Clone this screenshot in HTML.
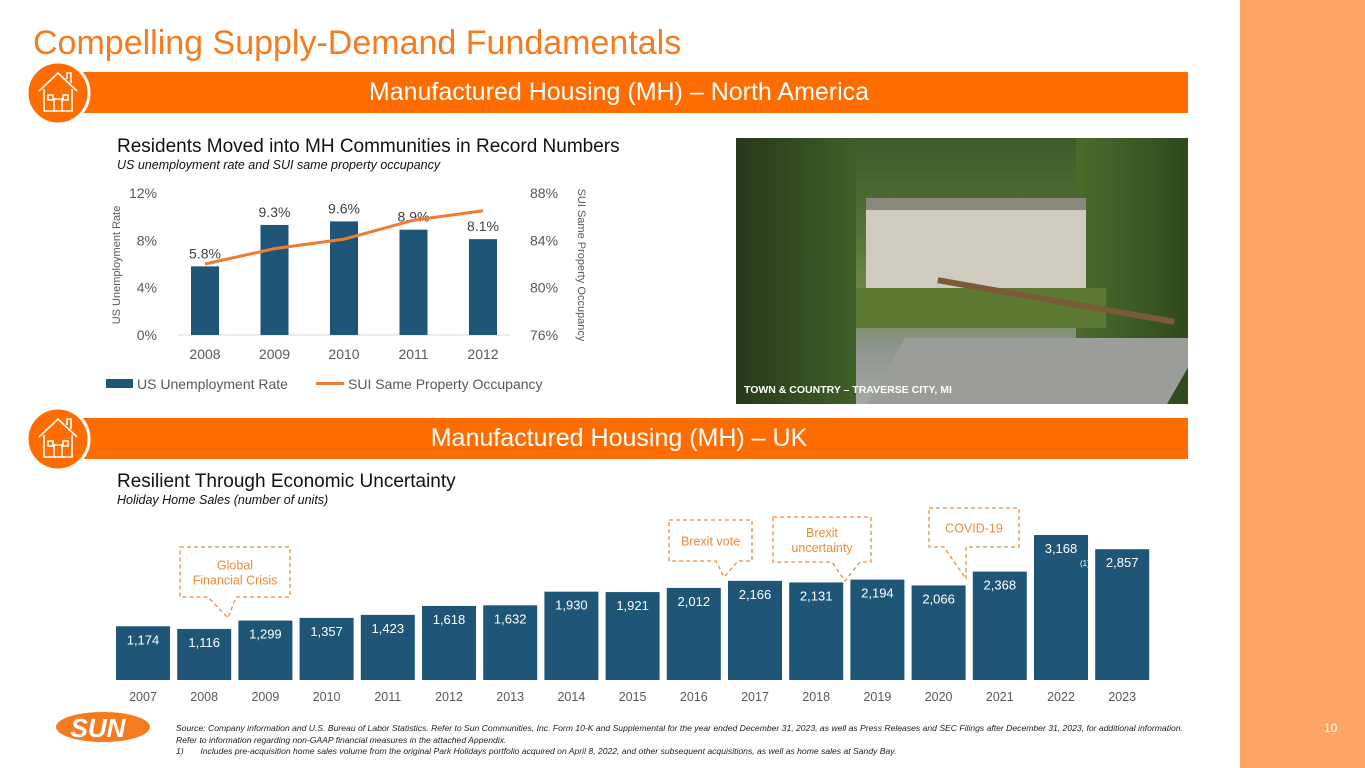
<!DOCTYPE html>
<html><head><meta charset="utf-8"><style>
body{margin:0;width:1365px;height:768px;overflow:hidden;background:#fff;font-family:"Liberation Sans",sans-serif;position:relative}
.abs{position:absolute}
</style></head><body>
<div class="abs" style="left:1240px;top:0;width:125px;height:768px;background:#FCA567"></div>
<div class="abs" style="left:33px;top:24px;font-size:34px;color:#F47B20">Compelling Supply-Demand Fundamentals</div>

<div class="abs" style="left:80px;top:72px;width:1108px;height:41px;background:#FF6D00;color:#fff;font-size:25px;line-height:41px;text-align:center;padding-right:30px;box-sizing:border-box">Manufactured Housing (MH) – North America</div>
<div class="abs" style="left:80px;top:418px;width:1108px;height:41px;background:#FF6D00;color:#fff;font-size:25px;line-height:41px;text-align:center;padding-right:30px;box-sizing:border-box">Manufactured Housing (MH) – UK</div>

<svg class="abs" style="left:0;top:0" width="1365" height="768">
 <g transform="translate(58,93)">
  <circle r="31" fill="#FF6D00" stroke="#fff" stroke-width="3"/>
  <path d="M-19,-2 L0,-20 L19,-2 M-14,-4 V18 H14 V-4 M-4,18 V6 H4 V18 M-10,2 h5 v5 h-5z M5,2 h5 v5 h-5z M9,-14 v-6 h4 v10" fill="none" stroke="#fff" stroke-width="1.6"/>
 </g>
 <g transform="translate(58,439)">
  <circle r="31" fill="#FF6D00" stroke="#fff" stroke-width="3"/>
  <path d="M-19,-2 L0,-20 L19,-2 M-14,-4 V18 H14 V-4 M-4,18 V6 H4 V18 M-10,2 h5 v5 h-5z M5,2 h5 v5 h-5z M9,-14 v-6 h4 v10" fill="none" stroke="#fff" stroke-width="1.6"/>
 </g>
</svg>

<div class="abs" style="left:117px;top:136px;font-size:19px;color:#111">Residents Moved into MH Communities in Record Numbers</div>
<div class="abs" style="left:117px;top:158px;font-size:12.5px;font-style:italic;color:#111">US unemployment rate and SUI same property occupancy</div>

<svg class="abs" id="topchart" style="left:0;top:0" width="700" height="410"></svg>

<div class="abs" style="left:736px;top:138px;width:452px;height:266px;overflow:hidden;background:linear-gradient(180deg,#3f5a2a 0%,#557238 35%,#6f8a4a 60%,#8f9590 80%,#a5a8a4 100%)">
 <div style="position:absolute;left:0;top:0;width:120px;height:266px;background:linear-gradient(90deg,#26391a,#3f5f28)"></div>
 <div style="position:absolute;left:340px;top:0;width:112px;height:266px;background:linear-gradient(90deg,#4b6b2c,#2f4a1d)"></div>
 <div style="position:absolute;left:130px;top:70px;width:220px;height:100px;background:#cfcbbf"></div>
 <div style="position:absolute;left:130px;top:60px;width:220px;height:12px;background:#8a877c"></div>
 <div style="position:absolute;left:120px;top:150px;width:250px;height:40px;background:#5d7a33"></div>
 <div style="position:absolute;left:150px;top:200px;width:300px;height:66px;background:#9b9d99;transform:skewX(-30deg)"></div>
 <div style="position:absolute;left:200px;top:160px;width:240px;height:6px;background:#7a5a38;transform:rotate(10deg)"></div>
 <div style="position:absolute;left:8px;top:246px;font-size:10.5px;font-weight:bold;color:#fff">TOWN &amp; COUNTRY – TRAVERSE CITY, MI</div>
</div>

<div class="abs" style="left:117px;top:471px;font-size:19px;color:#111">Resilient Through Economic Uncertainty</div>
<div class="abs" style="left:117px;top:493px;font-size:12.5px;font-style:italic;color:#111">Holiday Home Sales (number of units)</div>

<svg class="abs" id="botchart" style="left:0;top:0" width="1240" height="710"></svg>

<svg class="abs" style="left:50px;top:710px" width="100" height="34">
 <ellipse cx="53" cy="17" rx="47" ry="15" fill="#F47B20"/>
 <text x="48" y="27" text-anchor="middle" font-family="Liberation Sans" font-weight="bold" font-size="26" fill="#fff" font-style="italic">SUN</text>
</svg>
<div class="abs" style="left:176px;top:723px;font-size:8.6px;font-style:italic;color:#222;line-height:11.5px">Source: Company information and U.S. Bureau of Labor Statistics. Refer to Sun Communities, Inc. Form 10-K and Supplemental for the year ended December 31, 2023, as well as Press Releases and SEC Filings after December 31, 2023, for additional information.<br>Refer to information regarding non-GAAP financial measures in the attached Appendix.<br>1)&nbsp;&nbsp;&nbsp;&nbsp;&nbsp;&nbsp;&nbsp;Includes pre-acquisition home sales volume from the original Park Holidays portfolio acquired on April 8, 2022, and other subsequent acquisitions, as well as home sales at Sandy Bay.</div>
<div class="abs" style="left:1324px;top:721px;font-size:12px;color:#fff">10</div>

<script>
const NS='http://www.w3.org/2000/svg';
function mk(p,t,a,txt){const e=document.createElementNS(NS,t);for(const k in a)e.setAttribute(k,a[k]);if(txt!==undefined)e.textContent=txt;p.appendChild(e);return e;}

// Top chart data
const topYears=['2008','2009','2010','2011','2012'];
const unemployment=[5.8,9.3,9.6,8.9,8.1];
const unempLabels=['5.8%','9.3%','9.6%','8.9%','8.1%'];
const occupancy=[82.0,83.3,84.1,85.7,86.5];
const leftTicks=[0,4,8,12];
const rightTicks=[76,80,84,88];

// Bottom chart data
const botYears=['2007','2008','2009','2010','2011','2012','2013','2014','2015','2016','2017','2018','2019','2020','2021','2022','2023'];
const sales=[1174,1116,1299,1357,1423,1618,1632,1930,1921,2012,2166,2131,2194,2066,2368,3168,2857];
const salesLabels=['1,174','1,116','1,299','1,357','1,423','1,618','1,632','1,930','1,921','2,012','2,166','2,131','2,194','2,066','2,368','3,168','2,857'];

const tc=document.getElementById('topchart');
const tx=i=>205+i*69.5;
const ly=v=>335-v/12*142;
const ry=v=>335-(v-76)/12*142;
mk(tc,'line',{x1:178,x2:510,y1:335,y2:335,stroke:'#d9d9d9','stroke-width':1});
leftTicks.forEach(t=>{
 const e=mk(tc,'text',{x:157,y:ly(t)+5,'text-anchor':'end','font-size':14,fill:'#595959','font-family':'Liberation Sans'},t+'%');
 
 
});
rightTicks.forEach(t=>{
 const e=mk(tc,'text',{x:530,y:ry(t)+5,'font-size':14,fill:'#595959','font-family':'Liberation Sans'},t+'%');
 
 
});
topYears.forEach((y,i)=>{
 const b=mk(tc,'rect',{x:tx(i)-14,y:ly(unemployment[i]),width:28,height:335-ly(unemployment[i]),fill:'#1F5678'});
 
 
 const l=mk(tc,'text',{x:tx(i),y:ly(unemployment[i])-8,'text-anchor':'middle','font-size':14,fill:'#404040','font-family':'Liberation Sans'},unempLabels[i]);
 
 
 const xl=mk(tc,'text',{x:tx(i),y:359,'text-anchor':'middle','font-size':14,fill:'#595959','font-family':'Liberation Sans'},y);
 
 
});
const ln=mk(tc,'polyline',{points:occupancy.map((v,i)=>tx(i)+','+ry(v)).join(' '),fill:'none',stroke:'#ED7D31','stroke-width':3});


const t1=mk(tc,'text',{transform:'translate(120,265) rotate(-90)','text-anchor':'middle','font-size':11,fill:'#595959','font-family':'Liberation Sans'},'US Unemployment Rate');


const t2=mk(tc,'text',{transform:'translate(578,265) rotate(90)','text-anchor':'middle','font-size':11,fill:'#595959','font-family':'Liberation Sans'},'SUI Same Property Occupancy');


const lg1=mk(tc,'rect',{x:106,y:379,width:27,height:9,fill:'#1F5678'});


const lg1t=mk(tc,'text',{x:137,y:389,'font-size':14,fill:'#595959','font-family':'Liberation Sans'},'US Unemployment Rate');


const lg2=mk(tc,'line',{x1:316,x2:344,y1:383.5,y2:383.5,stroke:'#ED7D31','stroke-width':3});


const lg2t=mk(tc,'text',{x:348,y:389,'font-size':14,fill:'#595959','font-family':'Liberation Sans'},'SUI Same Property Occupancy');



const bc=document.getElementById('botchart');
const bx=i=>143+i*61.2;
const by=v=>680-v/3168*145;
botYears.forEach((y,i)=>{
 const b=mk(bc,'rect',{x:bx(i)-27,y:by(sales[i]),width:54,height:680-by(sales[i]),fill:'#1F5678'});
 
 
 const l=mk(bc,'text',{x:bx(i),y:by(sales[i])+18,'text-anchor':'middle','font-size':13,fill:'#fff','font-family':'Liberation Sans'},salesLabels[i]);
 
 
 const xl=mk(bc,'text',{x:bx(i),y:701,'text-anchor':'middle','font-size':12.5,fill:'#595959','font-family':'Liberation Sans'},y);
 
 
});
const fn=mk(bc,'text',{x:bx(15)+19,y:by(sales[15])+31,'font-size':8,fill:'#fff','font-family':'Liberation Sans'},'(1)');



const callouts=[
 {name:'global-financial-crisis-callout',x1:180,x2:290,y1:547,y2:597,n1:208,n2:236,tip:[228,618],lines:['Global','Financial Crisis']},
 {name:'brexit-vote-callout',x1:669,x2:752,y1:520,y2:561,n1:716,n2:738,tip:[724,577],lines:['Brexit vote']},
 {name:'brexit-uncertainty-callout',x1:773,x2:871,y1:517,y2:562,n1:832,n2:860,tip:[845,581],lines:['Brexit','uncertainty']},
 {name:'covid-19-callout',x1:929,x2:1019,y1:508,y2:547,n1:944,n2:966,tip:[966,579],lines:['COVID-19']}
];
callouts.forEach(c=>{
 const g=mk(bc,'g',{});
 
 
 mk(g,'path',{d:`M${c.x1},${c.y1} H${c.x2} V${c.y2} H${c.n2} L${c.tip[0]},${c.tip[1]} L${c.n1},${c.y2} H${c.x1} Z`,fill:'#fff',stroke:'#F08A3C','stroke-width':1.3,'stroke-dasharray':'4,3'});
 const cy=(c.y1+c.y2)/2, n=c.lines.length;
 c.lines.forEach((t,j)=>mk(g,'text',{x:(c.x1+c.x2)/2,y:cy+5+(j-(n-1)/2)*15,'text-anchor':'middle','font-size':12.5,fill:'#F08A3C','font-family':'Liberation Sans'},t));
});
</script>
</body></html>
